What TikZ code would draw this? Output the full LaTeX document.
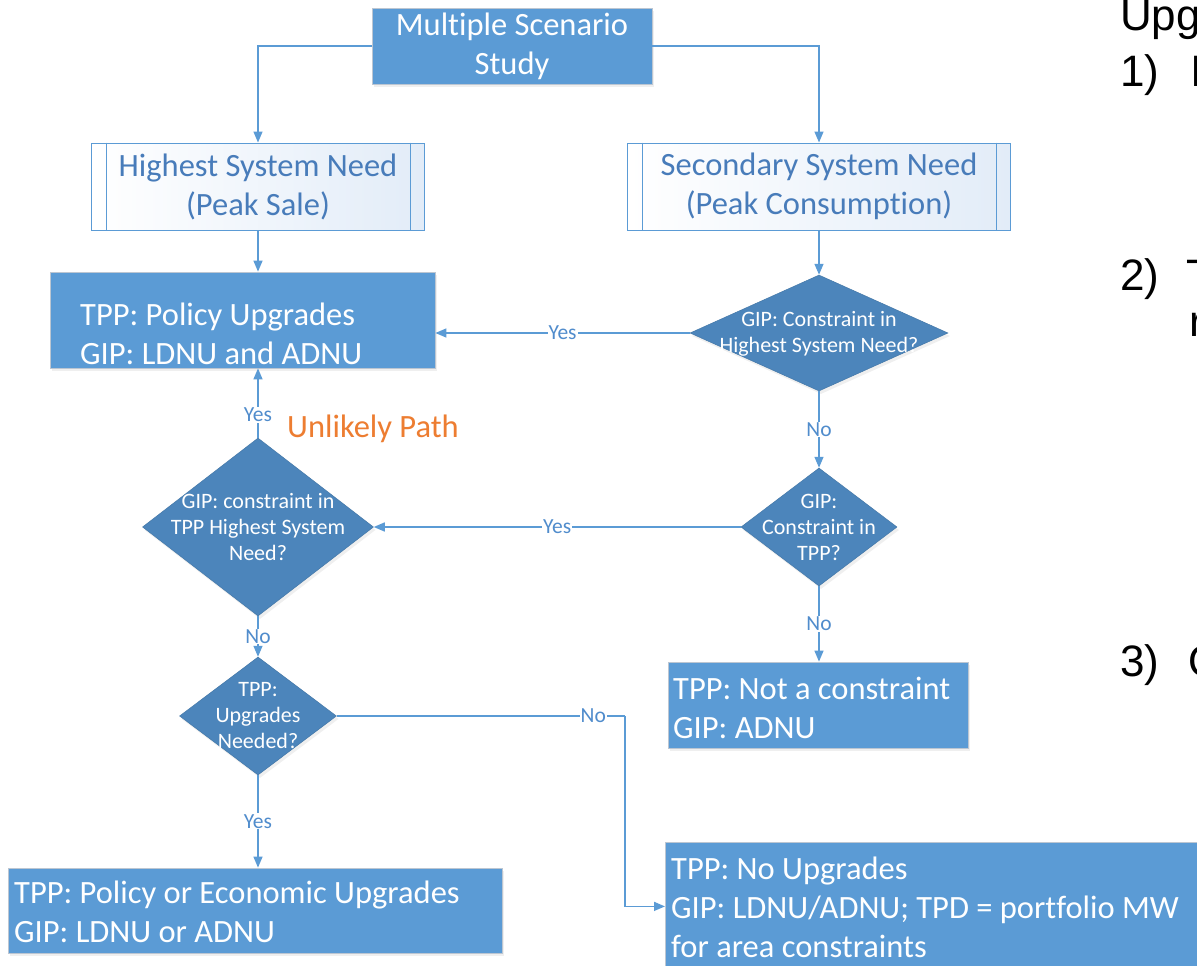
\documentclass[tikz,border=0pt]{standalone}
\usepackage{fontspec}
\setmainfont{Carlito}[Ligatures={NoCommon}]
\newfontfamily\arialf{Liberation Sans}
\usetikzlibrary{calc,shapes.geometric,arrows.meta,shadows}
\definecolor{boxblue}{RGB}{91,155,213}
\definecolor{diablue}{RGB}{76,133,187}
\definecolor{linblue}{RGB}{91,155,213}
\definecolor{txtblue}{RGB}{72,124,186}
\definecolor{lblblue}{RGB}{80,140,204}
\definecolor{orangeP}{RGB}{237,125,49}
\definecolor{boxedge}{RGB}{188,198,210}
\definecolor{paleblue}{RGB}{226,236,248}
\newcommand\fsbig{\fontsize{32.5}{39}\selectfont}
\newcommand\fssmall{\fontsize{22}{26}\selectfont}
\newcommand\fslbl{\fontsize{21.5}{24}\selectfont}
\begin{document}
\begin{tikzpicture}[x=1pt,y=-1pt,
  flowbox/.style={draw=boxedge, line width=0.8pt, fill=boxblue, inner sep=0pt,
    drop shadow={opacity=0.12, shadow xshift=2pt, shadow yshift=-3pt}},
  procbox/.style={draw=linblue, line width=1pt, left color=white, right color=paleblue,
    inner sep=0pt, text=txtblue, align=center, font=\fsbig},
  decbox/.style={shape=diamond, draw=diablue!90!black, line width=0.5pt, fill=diablue,
    inner sep=0pt, drop shadow={opacity=0.12, shadow xshift=2pt, shadow yshift=-3pt}},
  boxtxt/.style={text=white, font=\fsbig, align=left, inner sep=0pt, anchor=west},
  dectxt/.style={text=white, font=\fssmall, align=center, inner sep=0pt},
  conn/.style={draw=linblue, line width=1.4pt, -{Triangle[length=11pt,width=9pt]}},
  plain/.style={draw=linblue, line width=1.4pt},
  lbl/.style={fill=white, text=lblblue, font=\fslbl, inner sep=1pt},
  rtxt/.style={font=\arialf\fontsize{44}{50}\selectfont, inner sep=0pt, anchor=base west}
]
\useasboundingbox (0,0) rectangle (1197,966);
\clip (0,0) rectangle (1197,966);
\fill[white] (0,0) rectangle (1197,966);

% boxes
\node[flowbox, minimum width=280, minimum height=76, text=white, align=center, font=\fsbig]
  (top) at (512,46) {Multiple Scenario\\Study};
\node[procbox, minimum width=333, minimum height=87] (hsn) at (258,186.5)
  {Highest System Need\\(Peak Sale)};
\node[procbox, minimum width=383, minimum height=87] (ssn) at (819,186.5)
  {Secondary System Need\\(Peak Consumption)};
\foreach \n in {hsn,ssn}{
  \draw[linblue, line width=1pt] ($(\n.north west)+(15,0)$) -- ($(\n.south west)+(15,0)$);
  \draw[linblue, line width=1pt] ($(\n.north east)+(-15,0)$) -- ($(\n.south east)+(-15,0)$);
}
\node[flowbox, minimum width=385, minimum height=96] (pol) at (242.5,320) {};
\node[boxtxt] (poltxt) at (80,333.5) {TPP: Policy Upgrades\\GIP: LDNU and ADNU};

\node[flowbox, minimum width=300, minimum height=86] (notc) at (818,705) {};
\node[boxtxt] (notctxt) at (673,707.5) {TPP: Not a constraint\\GIP: ADNU};

\node[flowbox, minimum width=494, minimum height=85] (bl) at (255,910.5) {};
\node[boxtxt] (bltxt) at (14,911.5) {TPP: Policy or Economic Upgrades\\GIP: LDNU or ADNU};

\node[flowbox, minimum width=560, minimum height=128, anchor=north west] (br) at (665,842) {};
\node[boxtxt] (brtxt) at (671,907) {TPP: No Upgrades\\GIP: LDNU/ADNU; TPD = portfolio MW\\for area constraints};

% decisions
\node[decbox, minimum width=258, minimum height=116] (d1) at (819,333) {};
\node[dectxt] (d1t) at (819,334) {GIP: Constraint in\\Highest System Need?};
\node[decbox, minimum width=156, minimum height=118] (d2) at (819,527) {};
\node[dectxt] (d2t) at (819,527) {GIP:\\Constraint in\\TPP?};
\node[decbox, minimum width=231, minimum height=178] (d3) at (258,527) {};
\node[dectxt] (d3t) at (258,527) {GIP: constraint in\\TPP Highest System\\Need?};
\node[decbox, minimum width=157, minimum height=118] (d4) at (258,716) {};
\node[dectxt] (d4t) at (258,716) {TPP:\\Upgrades\\Needed?};

\node[text=orangeP, font=\fsbig, inner sep=0pt, anchor=west] (unl) at (287,429) {Unlikely Path};

% connectors
\draw[conn] (top.west) -| (hsn.north);
\draw[conn] (top.east) -| (ssn.north);
\draw[conn] (hsn.south) -- (hsn.south |- pol.north);
\draw[conn] (ssn.south) -- (d1.north);
\draw[conn] (d1.west) -- node[lbl]{Yes} (d1.west -| pol.east);
\draw[conn] (d1.south) -- node[lbl]{No} (d2.north);
\draw[conn] (d2.west) -- node[lbl]{Yes} (d3.east);
\draw[conn] (d2.south) -- node[lbl]{No} (d2.south |- notc.north);
\draw[conn] (d3.north) -- node[lbl, pos=0.33]{Yes} (d3.north |- pol.south);
\draw[conn] (d3.south) -- node[lbl]{No} (d4.north);
\draw[conn] (d4.south) -- node[lbl]{Yes} (d4.south |- bl.north);
\coordinate (bend) at (625,716);
\draw[plain] (d4.east) -- node[lbl, pos=0.89]{No} (bend);
\draw[conn] (bend) |- (br.west);

% right-hand text (cut off at the picture edge, as in the source)
\node[rtxt] (r0) at (1120,31) {Upgrades};
\node[rtxt] (r1) at (1120,87) {1)};
\node[rtxt] (r1b) at (1190,87) {I};
\node[rtxt] (r2) at (1120,290) {2)};
\node[rtxt] (r2b) at (1186,290) {T};
\node[rtxt] (r2c) at (1189,336) {r};
\node[rtxt] (r3) at (1120,676) {3)};
\node[rtxt] (r3b) at (1188,676) {O};
\end{tikzpicture}
\end{document}
